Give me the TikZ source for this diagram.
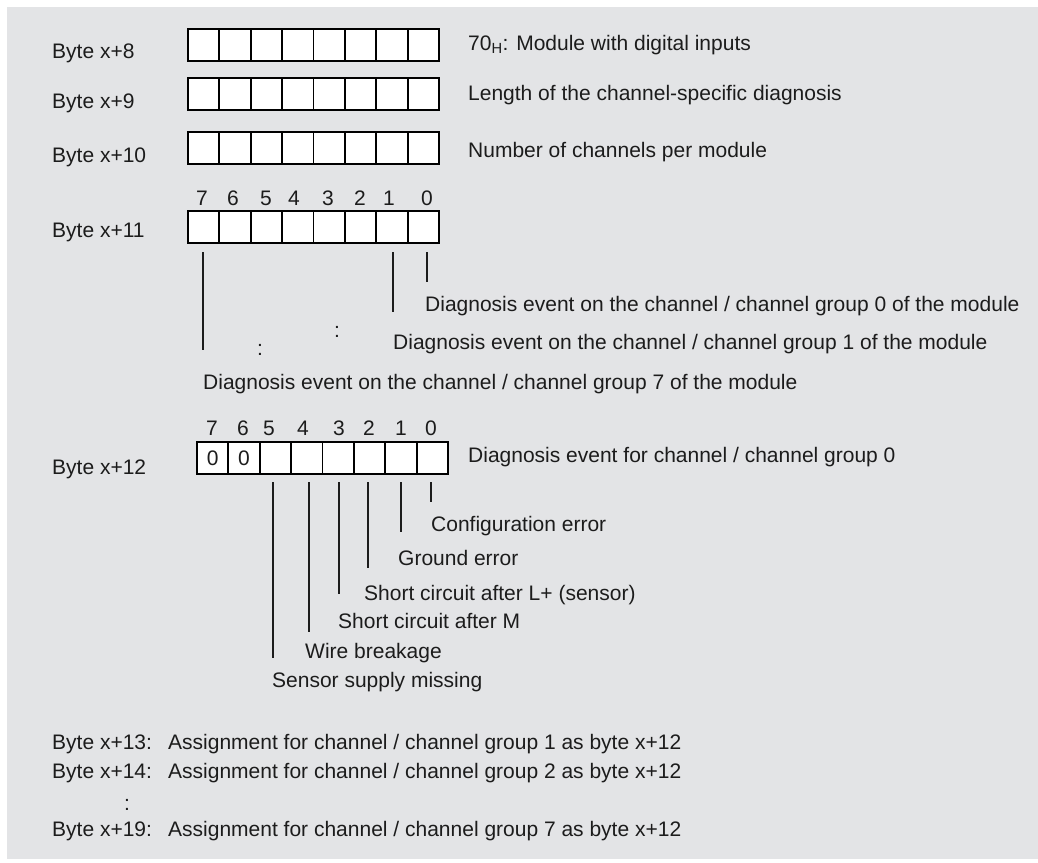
\documentclass[tikz,border=0pt]{standalone}
\usepackage{fontspec}
\setmainfont{Liberation Sans}
\definecolor{bg}{RGB}{227,228,230}
\definecolor{ink}{RGB}{28,28,28}
\begin{document}
\begin{tikzpicture}[x=1pt,y=-1pt,
  every node/.style={font=\fontsize{21}{25}\selectfont, text=ink},
  txt/.style={anchor=base west, inner sep=0pt},
  num/.style={anchor=base, inner sep=0pt},
  cell/.style={draw=black, fill=white, line width=1.9pt, minimum width=31.375pt, minimum height=32pt, inner sep=0pt, anchor=north west},
  tick/.style={draw=ink, line width=1.2pt}]
\useasboundingbox (0,0) rectangle (1038,862);
\fill[white] (0,0) rectangle (1038,862);
\fill[bg] (7,7) rectangle (1038,859);

% byte cells
\foreach \r/\x/\y in {8/187/28, 9/187/77, 10/187/131, 11/187/210, 12/196/441}
  \foreach \i in {0,...,7}
    \node[cell] (r\r-\i) at ({\x+(7-\i)*31.375},\y) {};

% left labels
\node[txt] (l8)  at (52,58)  {Byte x+8};
\node[txt] (l9)  at (52,108) {Byte x+9};
\node[txt] (l10) at (52,162) {Byte x+10};
\node[txt] (l11) at (52,237) {Byte x+11};
\node[txt] (l12) at (52,474) {Byte x+12};

% right labels
\node[txt] (t8)  at (468,50)  {70\textsubscript{H}: Module with digital inputs};
\node[txt] (t9)  at (468,100) {Length of the channel-specific diagnosis};
\node[txt] (t10) at (468,157) {Number of channels per module};
\node[txt] (t12) at (468,462) {Diagnosis event for channel / channel group 0};

% bit numbers row 11
\foreach \b/\x in {7/202,6/233,5/266,4/294,3/328,2/360,1/389,0/427}
  \node[num] (n11-\b) at (\x,205.5) {\b};
% bit numbers row 12
\foreach \b/\x in {7/212,6/243,5/269,4/303,3/339,2/369,1/401,0/431}
  \node[num] (n12-\b) at (\x,435.5) {\b};

% zeros
\node[inner sep=0pt] (z7) at (r12-7.center) {0};
\node[inner sep=0pt] (z6) at (r12-6.center) {0};

% row 11 connectors
\coordinate (a11-7) at (203,252); \coordinate (b11-7) at (203,350);
\coordinate (a11-1) at (393,252); \coordinate (b11-1) at (393,312);
\coordinate (a11-0) at (427,252); \coordinate (b11-0) at (427,282);
\draw[tick] (a11-7) -- (b11-7);
\draw[tick] (a11-1) -- (b11-1);
\draw[tick] (a11-0) -- (b11-0);

\node[txt] (g0) at (425,311) {Diagnosis event on the channel / channel group 0 of the module};
\node[txt] (g1) at (393,349) {Diagnosis event on the channel / channel group 1 of the module};
\node[txt] (g7) at (203,389) {Diagnosis event on the channel / channel group 7 of the module};
\node[inner sep=0pt] (c1) at (337,332) {:};
\node[inner sep=0pt] (c2) at (260,350) {:};

% row 12 connectors
\foreach \b/\x/\e in {5/273/658, 4/309/632, 3/339/594, 2/368/568, 1/401/532, 0/431/502}{
  \coordinate (a12-\b) at (\x,482);
  \coordinate (b12-\b) at (\x,\e);
  \draw[tick] (a12-\b) -- (b12-\b);
}
\node[txt] (e0) at (431,531) {Configuration error};
\node[txt] (e1) at (398,565) {Ground error};
\node[txt] (e2) at (364,600) {Short circuit after L+ (sensor)};
\node[txt] (e3) at (338,628) {Short circuit after M};
\node[txt] (e4) at (305,658) {Wire breakage};
\node[txt] (e5) at (272,687) {Sensor supply missing};

% bottom lines
\node[txt] (k13) at (52,749) {Byte x+13:};
\node[txt] (v13) at (168,749) {Assignment for channel / channel group 1 as byte x+12};
\node[txt] (k14) at (52,778) {Byte x+14:};
\node[txt] (v14) at (168,778) {Assignment for channel / channel group 2 as byte x+12};
\node[inner sep=0pt] (kc) at (127,805) {:};
\node[txt] (k19) at (52,836) {Byte x+19:};
\node[txt] (v19) at (168,836) {Assignment for channel / channel group 7 as byte x+12};
\end{tikzpicture}
\end{document}
